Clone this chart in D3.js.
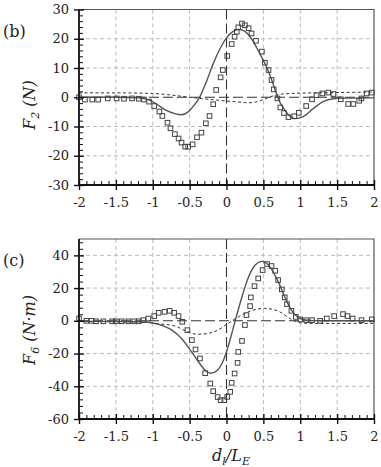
<!DOCTYPE html>
<html>
<head>
<meta charset="utf-8">
<script src="https://cdn.jsdelivr.net/npm/d3@7"></script>
<style>
  body { margin: 0; background: #fff; }
  text { font-family: "DejaVu Serif", serif; fill: #222; }
</style>
</head>
<body>
<svg id="chart" width="381" height="467"></svg>
<script>
// ---- data ----
const xTicks = [-2, -1.5, -1, -0.5, 0, 0.5, 1, 1.5, 2];
const f2Ticks = [-30, -20, -10, 0, 10, 20, 30];
const f6Ticks = [-60, -40, -20, 0, 20, 40];

// panel (b): F2 [d/L, value]
const f2Exp = [[-2.00,0.0],[-1.92,-0.8],[-1.82,-0.8],[-1.74,-0.8],[-1.61,-0.4],[-1.49,-0.4],[-1.39,-0.5],
  [-1.28,-0.4],[-1.19,-0.5],[-1.12,-0.8],[-1.05,-1.5],[-0.98,-3.0],[-0.91,-4.9],[-0.87,-6.4],[-0.80,-8.7],
  [-0.76,-10.6],[-0.70,-12.6],[-0.65,-14.1],[-0.61,-15.5],[-0.56,-16.9],[-0.52,-16.9],[-0.46,-16.1],
  [-0.40,-13.7],[-0.34,-12.1],[-0.28,-8.9],[-0.23,-6.4],[-0.18,-2.4],[-0.14,2.5],[-0.08,6.8],[-0.05,9.3],
  [0.01,14.1],[0.07,18.2],[0.11,20.7],[0.14,22.4],[0.16,23.9],[0.21,25.2],[0.25,24.6],[0.30,23.6],
  [0.34,21.8],[0.40,19.3],[0.48,15.6],[0.52,11.8],[0.57,9.3],[0.61,5.9],[0.64,2.7],[0.69,-0.4],
  [0.73,-3.5],[0.78,-5.4],[0.84,-6.8],[0.92,-6.5],[0.98,-5.3],[1.08,-3.0],[1.16,-0.7],[1.22,0.7],
  [1.30,1.3],[1.38,1.6],[1.45,1.1],[1.55,-0.7],[1.65,-2.3],[1.72,-2.3],[1.80,-1.2],[1.83,-0.4],
  [1.90,1.3],[1.97,1.6]];
const f2Solid = [[-2,0],[-1.5,0],[-1.2,-0.2],[-1.05,-0.9],[-0.95,-2.3],[-0.83,-4.3],[-0.70,-5.6],
  [-0.61,-6.0],[-0.52,-5.0],[-0.44,-2.8],[-0.36,0.2],[-0.27,5.5],[-0.18,11.5],[-0.09,16.5],[0,20.3],
  [0.09,22.5],[0.17,23.2],[0.25,22.5],[0.32,20.7],[0.45,15],[0.57,8.8],[0.66,2.5],[0.70,-0.4],
  [0.79,-4.4],[0.88,-6.9],[0.93,-7.3],[1.04,-6.6],[1.18,-3.8],[1.31,-1.5],[1.45,-0.5],[1.6,-0.3],[2,-0.2]];
const f2Dashed = [[-2,1.5],[-1.5,1.5],[-1.0,1.3],[-0.8,0.9],[-0.6,0.3],[-0.4,-0.3],[-0.2,-0.8],
  [0,-1.3],[0.15,-1.6],[0.3,-1.9],[0.4,-1.6],[0.5,-0.8],[0.6,0.2],[0.75,1.1],[1.0,1.4],[1.5,1.6],[2,1.8]];

// panel (c): F6
const f6Exp = [[-2.00,1.4],[-1.90,0.0],[-1.83,0.0],[-1.77,-0.3],[-1.67,-0.3],[-1.55,-0.3],[-1.50,-0.3],
  [-1.42,-0.3],[-1.33,-0.3],[-1.25,-0.3],[-1.19,-0.3],[-1.13,0.4],[-1.06,1.4],[-0.98,2.9],[-0.92,4.9],
  [-0.84,5.5],[-0.77,6.1],[-0.71,4.9],[-0.65,2.9],[-0.60,-0.6],[-0.53,-5.7],[-0.47,-11.8],[-0.42,-17.5],
  [-0.36,-23],[-0.29,-32],[-0.22,-38.3],[-0.18,-43],[-0.12,-46.6],[-0.08,-48.5],[-0.03,-48.5],
  [0.01,-46.5],[0.05,-43.4],[0.07,-37.9],[0.11,-32.2],[0.15,-25.7],[0.16,-19],[0.21,-12.3],[0.25,-2.6],
  [0.27,3.5],[0.32,9.0],[0.33,14.3],[0.38,21.2],[0.43,25.9],[0.49,31],[0.55,34.7],[0.61,33.5],
  [0.66,30.6],[0.70,24.9],[0.75,19.2],[0.79,14.3],[0.82,10.2],[0.88,6.1],[0.94,2.4],[1.00,0.9],
  [1.08,0.4],[1.16,0.4],[1.27,0],[1.36,1.4],[1.46,2.9],[1.58,4.1],[1.64,2.9],[1.71,1.4],[1.83,0.4],[1.97,0.9]];
const f6Solid = [[-2,-0.3],[-1.5,-0.4],[-1.2,-0.6],[-1.0,-1.3],[-0.85,-3.2],[-0.74,-5.7],[-0.61,-10.8],
  [-0.49,-17.9],[-0.38,-25],[-0.29,-30.2],[-0.21,-32],[-0.12,-30],[-0.04,-24],[0.02,-16],[0.07,-8],
  [0.12,0.4],[0.21,14.7],[0.30,26.9],[0.39,34.1],[0.48,36.3],[0.57,34.1],[0.68,25.9],[0.79,14.7],
  [0.88,6.5],[0.97,2.1],[1.09,0.4],[1.3,0],[2,0]];
const f6Dashed = [[-2,-0.4],[-1.5,-0.5],[-1.1,-0.8],[-0.97,-1.6],[-0.70,-3.2],[-0.55,-6.2],[-0.40,-8.2],
  [-0.25,-7.7],[-0.11,-5.5],[0,-2.2],[0.16,2.4],[0.36,6.5],[0.52,7.6],[0.72,5.5],[0.88,0.9],
  [1.0,-1.2],[1.2,-1.6],[2,-1.6]];

const svg = d3.select("#chart");
const left = 79, right = 374;

function panel(o) {
  const x = d3.scaleLinear().domain([-2, 2]).range([left, right]);
  const y = d3.scaleLinear().domain(o.domain).range([o.bottom, o.top]);
  const g = svg.append("g");

  // grid
  g.selectAll(".gx").data(xTicks.filter(d => d !== 0 && d !== -2 && d !== 2)).enter()
    .append("line")
    .attr("x1", d => x(d)).attr("x2", d => x(d))
    .attr("y1", o.top).attr("y2", o.bottom)
    .attr("stroke", "#bbb").attr("stroke-dasharray", "4,3");
  g.selectAll(".gy").data(o.ticks.filter(d => d !== 0 && d !== o.domain[0])).enter()
    .append("line")
    .attr("x1", left).attr("x2", right)
    .attr("y1", d => y(d)).attr("y2", d => y(d))
    .attr("stroke", "#bbb").attr("stroke-dasharray", "4,3");

  // zero lines (long dash)
  g.append("line").attr("x1", left).attr("x2", right)
    .attr("y1", y(0)).attr("y2", y(0))
    .attr("stroke", "#333").attr("stroke-width", 1.1).attr("stroke-dasharray", "10,4");
  g.append("line").attr("x1", x(0)).attr("x2", x(0))
    .attr("y1", o.top).attr("y2", o.bottom)
    .attr("stroke", "#333").attr("stroke-width", 1.1).attr("stroke-dasharray", "10,4");

  // frame top / right
  g.append("path")
    .attr("d", `M${left},${o.top}H${right}V${o.bottom}`)
    .attr("fill", "none").attr("stroke", "#555").attr("stroke-width", 1.2);

  const line = d3.line().x(d => x(d[0])).y(d => y(d[1])).curve(d3.curveMonotoneX);

  g.append("path").datum(o.dashed).attr("d", line)
    .attr("fill", "none").attr("stroke", "#333").attr("stroke-width", 1)
    .attr("stroke-dasharray", "3,2.5");
  g.append("path").datum(o.solid).attr("d", line)
    .attr("fill", "none").attr("stroke", "#555").attr("stroke-width", 1.4);

  const s = 4.6;
  g.selectAll(".sq").data(o.exp).enter().append("rect")
    .attr("x", d => x(d[0]) - s / 2).attr("y", d => y(d[1]) - s / 2)
    .attr("width", s).attr("height", s)
    .attr("fill", "none").attr("stroke", "#444").attr("stroke-width", 1);

  // axes
  const xMinor = d3.range(-20, 21).map(d => d / 10).filter(d => Math.abs(d * 2 - Math.round(d * 2)) > 1e-6);
  const yMinor = d3.range(o.domain[0], o.domain[1] + 0.001, o.minor).filter(d => !o.ticks.includes(d));

  const ax = g.append("g").attr("transform", `translate(0,${o.bottom})`)
    .call(d3.axisBottom(x).tickValues(xTicks).tickSize(5).tickPadding(8)
      .tickFormat(d => String(d)));
  ax.select(".domain").remove();
  ax.selectAll(".tick line").attr("y1", -5).attr("stroke", "#111").attr("stroke-width", 1.4);
  ax.selectAll("text").style("font-size", "13px").attr("fill", "#222");
  g.append("g").attr("transform", `translate(0,${o.bottom})`)
    .call(d3.axisTop(x).tickValues(xMinor).tickSize(4).tickFormat(""))
    .call(a => a.select(".domain").remove())
    .selectAll("line").attr("stroke", "#111");

  const ay = g.append("g").attr("transform", `translate(${left},0)`)
    .call(d3.axisLeft(y).tickValues(o.ticks).tickSize(5).tickPadding(5)
      .tickFormat(d => String(d)));
  ay.select(".domain").remove();
  ay.selectAll(".tick line").attr("x1", 5).attr("stroke", "#111").attr("stroke-width", 1.4);
  ay.selectAll("text").style("font-size", "13px").attr("fill", "#222");
  g.append("g").attr("transform", `translate(${left},0)`)
    .call(d3.axisRight(y).tickValues(yMinor).tickSize(4).tickFormat(""))
    .call(a => a.select(".domain").remove())
    .selectAll("line").attr("stroke", "#111");

  g.append("path")
    .attr("d", `M${left},${o.top}V${o.bottom}H${right}`)
    .attr("fill", "none").attr("stroke", "#111").attr("stroke-width", 1.8);

  // labels
  svg.append("text").attr("x", 3).attr("y", o.labelY)
    .style("font-size", "16px").text(o.label);

  const t = svg.append("text")
    .attr("transform", `translate(35,${o.titleY}) rotate(-90)`)
    .attr("text-anchor", "middle")
    .style("font-size", "16px").style("font-style", "italic");
  t.append("tspan").text("F");
  t.append("tspan").attr("dy", 4).style("font-size", "11px").text(o.sub);
  t.append("tspan").attr("dy", -4).text(" " + o.unit);
}

panel({ domain: [-30, 30], top: 9.5, bottom: 185, ticks: f2Ticks, minor: 2,
  exp: f2Exp, solid: f2Solid, dashed: f2Dashed,
  label: "(b)", labelY: 37, titleY: 105, sub: "2", unit: "(N)" });

panel({ domain: [-60, 50], top: 239, bottom: 419, ticks: f6Ticks, minor: 4,
  exp: f6Exp, solid: f6Solid, dashed: f6Dashed,
  label: "(c)", labelY: 266, titleY: 330, sub: "6", unit: "(N·m)" });

// x-axis title
const xt = svg.append("text").attr("x", 231).attr("y", 461)
  .attr("text-anchor", "middle").style("font-size", "16px").style("font-style", "italic");
xt.append("tspan").text("d");
xt.append("tspan").attr("dy", 4).style("font-size", "11px").text("l");
xt.append("tspan").attr("dy", -4).text("/L");
xt.append("tspan").attr("dy", 4).style("font-size", "11px").text("E");
</script>
</body>
</html>
